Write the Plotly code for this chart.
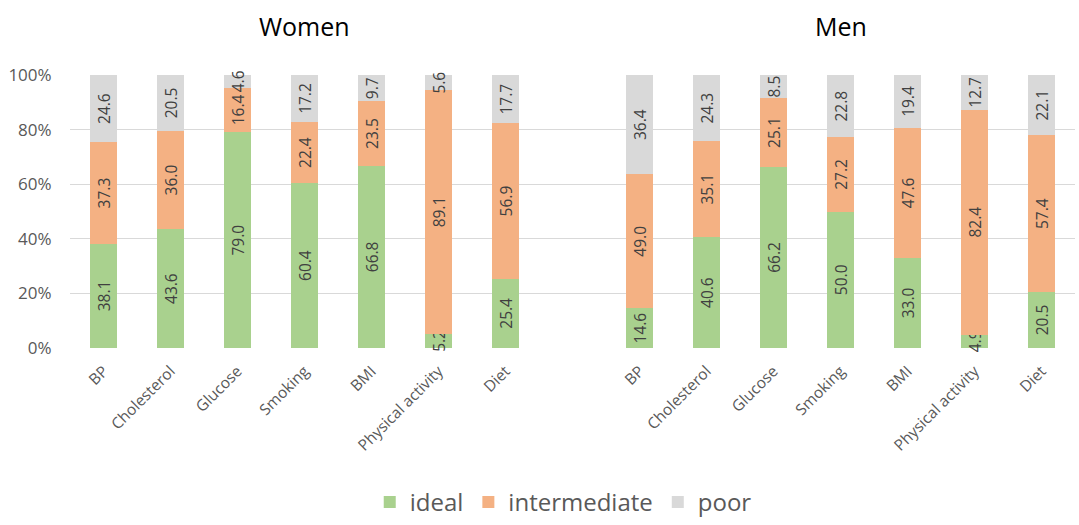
import plotly.graph_objects as go

categories = ["BP", "Cholesterol", "Glucose", "Smoking", "BMI", "Physical activity", "Diet"]
groups = ["Women", "Men"]

women_ideal = [38.1, 43.6, 79.0, 60.4, 66.8, 5.2, 25.4]
women_intermediate = [37.3, 36.0, 16.4, 22.4, 23.5, 89.1, 56.9]
women_poor = [24.6, 20.5, 4.6, 17.2, 9.7, 5.6, 17.7]

men_ideal = [14.6, 40.6, 66.2, 50.0, 33.0, 4.9, 20.5]
men_intermediate = [49.0, 35.1, 25.1, 27.2, 47.6, 82.4, 57.4]
men_poor = [36.4, 24.3, 8.5, 22.8, 19.4, 12.7, 22.1]

y_ticks = [0, 20, 40, 60, 80, 100]

n = len(categories)
xw = list(range(n))
xm = [i + n + 1 for i in range(n)]
xpos = xw + xm
ticktext = categories + categories

series = [
    ("ideal", women_ideal + men_ideal, "#A9D18E"),
    ("intermediate", women_intermediate + men_intermediate, "#F4B183"),
    ("poor", women_poor + men_poor, "#D9D9D9"),
]

FONT = "Open Sans"
fig = go.Figure()
for name, vals, color in series:
    fig.add_trace(go.Bar(
        x=xpos, y=vals, name=name,
        marker=dict(color=color, line=dict(width=0)),
        width=0.39,
        text=[f"{v:.1f}" for v in vals],
        textposition="inside",
        insidetextanchor="middle",
        textangle=-90,
        constraintext="none",
        cliponaxis=False,
        textfont=dict(family=FONT, size=15.5, color="#404040"),
        hoverinfo="skip",
    ))

fig.update_layout(
    barmode="stack",
    barnorm="percent",
    width=1079, height=525,
    margin=dict(l=70, r=4, t=75, b=177, autoexpand=False),
    plot_bgcolor="white", paper_bgcolor="white",
    font=dict(family=FONT, color="#595959"),
    legend=dict(orientation="h", xref="container", yref="container",
                x=0.522, xanchor="center", y=0.0, yanchor="bottom",
                font=dict(size=24, color="#595959"), traceorder="normal",
                itemwidth=30),
    xaxis=dict(range=[-0.5, 2 * n + 0.5], tickmode="array", tickvals=xpos, ticktext=ticktext,
               tickangle=-45, tickfont=dict(size=15.5, color="#595959"),
               showgrid=False, showline=False, zeroline=False, ticks="outside",
               ticklen=7, tickcolor="rgba(0,0,0,0)", automargin=False),
    yaxis=dict(range=[0, 100], tickvals=y_ticks, ticktext=[f"{t}%" for t in y_ticks],
               tickfont=dict(size=17, color="#595959"),
               showgrid=True, gridcolor="#D9D9D9", gridwidth=1, zeroline=False,
               showline=False, ticks="outside", ticklen=14, tickcolor="rgba(0,0,0,0)",
               automargin=False),
    bargap=0.6,
)

for g, xs in zip(groups, [xw, xm]):
    fig.add_annotation(x=sum(xs) / len(xs), xref="x", y=1.18, yref="paper",
                       text=g, showarrow=False, yanchor="middle",
                       font=dict(family=FONT, size=25, color="#000000"))

fig.write_html("out.html")
